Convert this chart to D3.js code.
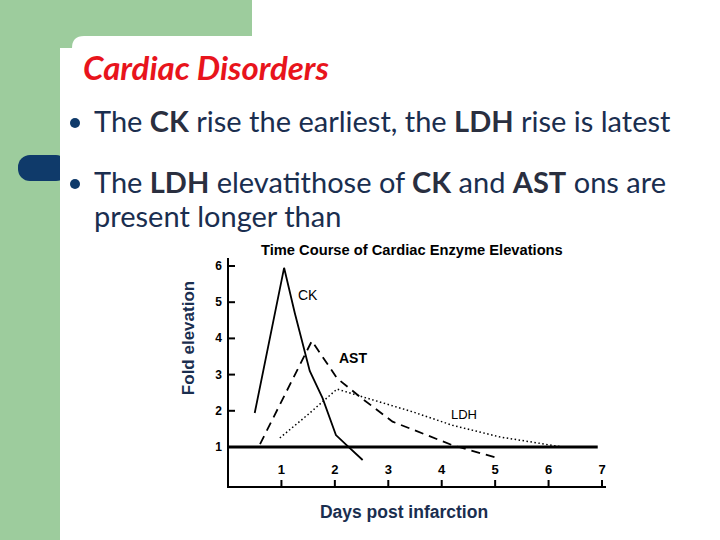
<!DOCTYPE html>
<html><head><meta charset="utf-8">
<script src="https://cdn.jsdelivr.net/npm/d3@7"></script>
<style>body{margin:0;background:#fff}</style>
</head><body>
<script>
var days = [0, 1, 2, 3, 4, 5, 6, 7];
var folds = [1, 2, 3, 4, 5, 6];
var ckDays = [0.5, 1.05, 1.25, 1.53, 1.77, 2.02, 2.22, 2.52];
var ckVals = [1.94, 5.95, 4.7, 3.1, 2.35, 1.33, 1.05, 0.64];
var astDays = [0.6, 1.57, 2.04, 2.5, 3.08, 4.2, 5.03];
var astVals = [1.08, 3.93, 2.9, 2.35, 1.7, 1.05, 0.7];
var ldhDays = [0.97, 1.5, 2.04, 2.6, 3.46, 4.2, 5.08, 6.26];
var ldhVals = [1.25, 1.9, 2.6, 2.35, 1.97, 1.6, 1.28, 1.0];

var svg = d3.select('body').append('svg').attr('width', 720).attr('height', 540);

// slide background
svg.append('rect').attr('width', 252).attr('height', 60).attr('fill', '#9dcc9d');
svg.append('rect').attr('width', 60).attr('height', 540).attr('fill', '#9dcc9d');
svg.append('path').attr('d', 'M60,62 Q60,50 72,50 L72,48 Q72,36 84,36 L252,36 L252,62 Z').attr('fill', '#fff');
svg.append('rect').attr('x', 60).attr('y', 48).attr('width', 30).attr('height', 30).attr('fill', '#fff');
svg.append('rect').attr('x', 18).attr('y', 155).attr('width', 50).attr('height', 26).attr('rx', 12).attr('fill', '#0f3a6a');
svg.append('rect').attr('x', 60).attr('y', 150).attr('width', 20).attr('height', 40).attr('fill', '#fff');

svg.append('text').attr('x', 83).attr('y', 80).text('Cardiac Disorders')
    .attr('font-family', 'Lato').attr('font-style', 'italic').attr('font-weight', 'bold')
    .attr('font-size', 33).attr('fill', '#e8141c');

var bullets = [
    { y: 132, parts: [['The ', 0], ['CK', 1], [' rise the earliest, the ', 0], ['LDH', 1], [' rise is latest', 0]], dot: true },
    { y: 193, parts: [['The ', 0], ['LDH', 1], [' elevatithose of ', 0], ['CK', 1], [' and ', 0], ['AST', 1], [' ons are', 0]], dot: true },
    { y: 227, parts: [['present longer than', 0]], dot: false }
];
bullets.forEach(function(b) {
    if (b.dot) svg.append('circle').attr('cx', 75).attr('cy', b.y - 9).attr('r', 5).attr('fill', '#0f3a6a');
    var t = svg.append('text').attr('x', 94).attr('y', b.y)
        .attr('font-family', 'Lato').attr('font-size', 29).attr('fill', '#1a2e4f');
    b.parts.forEach(function(p) {
        t.append('tspan').text(p[0]).attr('font-weight', p[1] ? 'bold' : 'normal')
            .attr('fill', p[1] ? '#2a2f3f' : '#1a2e4f').style('white-space', 'pre');
    });
});

// chart
var x = d3.scaleLinear().domain([0, 7]).range([228, 602]);
var y = d3.scaleLinear().domain([1, 6]).range([447, 266]);
var g = svg.append('g').attr('font-family', 'Liberation Sans, Arial').attr('font-weight', 'bold');

g.append('text').attr('x', 261).attr('y', 255).attr('font-size', 14.7).text('Time Course of Cardiac Enzyme Elevations');

g.append('line').attr('x1', 228).attr('x2', 228).attr('y1', 258).attr('y2', 487).attr('stroke', '#000').attr('stroke-width', 2);
g.append('line').attr('x1', 227).attr('x2', 606).attr('y1', 487).attr('y2', 487).attr('stroke', '#000').attr('stroke-width', 2);

folds.forEach(function(f) {
    g.append('line').attr('x1', 228).attr('x2', 235).attr('y1', y(f)).attr('y2', y(f)).attr('stroke', '#000').attr('stroke-width', 2);
    g.append('text').attr('x', 222).attr('y', y(f) + 4).attr('text-anchor', 'end').attr('font-size', 12).text(f);
});
days.slice(1).forEach(function(d) {
    g.append('line').attr('x1', x(d)).attr('x2', x(d)).attr('y1', 480).attr('y2', 487).attr('stroke', '#000').attr('stroke-width', 2);
    g.append('text').attr('x', x(d)).attr('y', 474).attr('text-anchor', 'middle').attr('font-size', 13).text(d);
});

g.append('line').attr('x1', 228).attr('x2', x(6.92)).attr('y1', y(1)).attr('y2', y(1)).attr('stroke', '#000').attr('stroke-width', 3);

var line = d3.line().x(function(p) { return x(p[0]); }).y(function(p) { return y(p[1]); });
var series = [
    [ckDays, ckVals, null, 1.8],
    [astDays, astVals, '9,6', 1.8],
    [ldhDays, ldhVals, '1.5,2.5', 1.5]
];
series.forEach(function(s) {
    g.append('path').datum(d3.zip(s[0], s[1])).attr('d', line).attr('fill', 'none')
        .attr('stroke', '#000').attr('stroke-width', s[3]).attr('stroke-dasharray', s[2]);
});

g.append('text').attr('x', 298).attr('y', 300).attr('font-size', 14).attr('font-weight', 'normal').text('CK');
g.append('text').attr('x', 339).attr('y', 363).attr('font-size', 14).text('AST');
g.append('text').attr('x', 451).attr('y', 419).attr('font-size', 13).attr('font-weight', 'normal').text('LDH');

g.append('text').attr('transform', 'translate(194,338) rotate(-90)').attr('text-anchor', 'middle')
    .attr('font-size', 17).attr('fill', '#1a2e4f').text('Fold elevation');
g.append('text').attr('x', 404).attr('y', 518).attr('text-anchor', 'middle')
    .attr('font-size', 17.5).attr('fill', '#1a2e4f').text('Days post infarction');
</script>
</body></html>
